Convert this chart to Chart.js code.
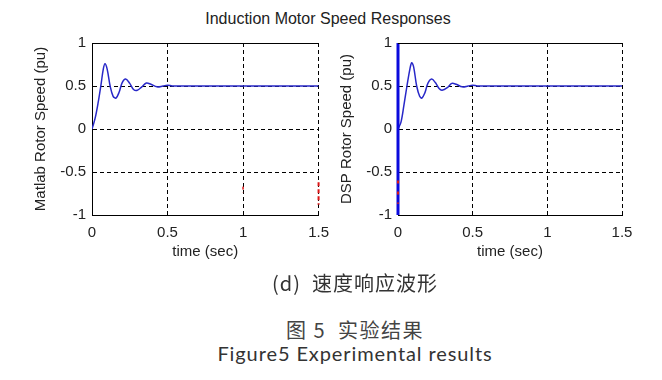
<!DOCTYPE html>
<html><head><meta charset="utf-8">
<script src="https://cdn.jsdelivr.net/npm/chart.js@4"></script>
<style>
html,body{margin:0;padding:0;background:#fff;}
#wrap{position:relative;width:662px;height:380px;overflow:hidden;background:#fff;}
.c{position:absolute;top:0;}
.txt{position:absolute;left:0;width:662px;text-align:center;color:#222;white-space:nowrap;}
#title{top:10px;left:0;width:656px;font:16px "Liberation Sans",Arial,sans-serif;}
#cap1{top:268px;left:24px;font:20px "Noto Sans CJK SC","Lato",sans-serif;letter-spacing:1px;color:#333;}
#cap2{top:315px;left:24px;font:20px "Noto Sans CJK SC",sans-serif;letter-spacing:1.5px;color:#444;}
#cap3{top:341px;left:24px;font:400 20px "Lato","Noto Sans",sans-serif;letter-spacing:0.9px;color:#333;}
</style></head>
<body><div id="wrap">
<div id="title" class="txt">Induction Motor Speed Responses</div>
<canvas id="cL" class="c" style="left:0" width="338" height="270"></canvas>
<canvas id="cR" class="c" style="left:331px" width="331" height="270"></canvas>
<div id="cap1" class="txt">(d)&nbsp; 速度响应波形</div>
<div id="cap2" class="txt">图 5&nbsp; 实验结果</div>
<div id="cap3" class="txt">Figure5 Experimental results</div>
</div>
<script>
// ---- data ----
const matlabTime  = [0, 0.02, 0.04, 0.06, 0.075, 0.086, 0.1, 0.12, 0.14, 0.159, 0.18, 0.2, 0.223, 0.25, 0.275, 0.3, 0.33, 0.36, 0.39, 0.43, 0.47, 0.5, 0.53, 0.56, 0.6, 1.5];
const matlabSpeed = [0, 0.12, 0.3, 0.52, 0.7, 0.76, 0.7, 0.5, 0.38, 0.36, 0.43, 0.54, 0.58, 0.53, 0.46, 0.45, 0.49, 0.535, 0.52, 0.49, 0.5, 0.51, 0.5, 0.5, 0.5, 0.5];
const dspTime  = [0, 0.02, 0.04, 0.06, 0.08, 0.092, 0.105, 0.125, 0.145, 0.16, 0.18, 0.2, 0.225, 0.25, 0.275, 0.295, 0.33, 0.36, 0.39, 0.43, 0.47, 0.5, 0.53, 0.56, 0.6, 1.5];
const dspSpeed = [0, 0.08, 0.28, 0.5, 0.7, 0.77, 0.72, 0.5, 0.38, 0.36, 0.42, 0.53, 0.58, 0.54, 0.47, 0.45, 0.48, 0.53, 0.52, 0.49, 0.5, 0.51, 0.5, 0.5, 0.5, 0.5];
const dspStepTime  = [0, 0];
const dspStepSpeed = [-1, 1];
const matlabRedTime  = [1.5, 1.5];
const matlabRedSpeed = [-0.62, -0.88];
const matlabRed2Time  = [1.0, 1.0];
const matlabRed2Speed = [-0.67, -0.74];
const dspRedTime  = [0, 0];
const dspRedSpeed = [-0.6, -0.87];
const xTicks = [0, 0.5, 1, 1.5];
const yTicks = [-1, -0.5, 0, 0.5, 1];

const pts = (xs, ys) => xs.map((x, i) => ({x, y: ys[i]}));
const FONT = {family: '"Liberation Sans", Arial, sans-serif', size: 15};

const topBorder = {
  id: 'topBorder',
  afterDraw(chart) {
    const a = chart.chartArea, ctx = chart.ctx;
    ctx.save(); ctx.strokeStyle = '#000'; ctx.lineWidth = 1;
    ctx.beginPath(); ctx.moveTo(a.left, a.top + 0.5); ctx.lineTo(a.right, a.top + 0.5); ctx.stroke();
    ctx.restore();
  }
};

function make(id, datasets, yTitle, yWidth, padRight, yTitlePad) {
  return new Chart(document.getElementById(id), {
    type: 'scatter',
    data: {datasets},
    plugins: [topBorder],
    options: {
      responsive: false, animation: false,
      layout: {padding: {left: 0, top: 43, right: padRight, bottom: 0}},
      plugins: {legend: {display: false}, tooltip: {enabled: false}},
      elements: {point: {radius: 0}},
      scales: {
        x: {
          type: 'linear', min: 0, max: 1.5,
          afterBuildTicks: s => { s.ticks = xTicks.map(v => ({value: v})); },
          afterFit: s => { s.height = 55; },
          ticks: {color: '#222', font: FONT, padding: 9, maxRotation: 0, callback: v => String(v)},
          grid: {color: '#000', lineWidth: 1, drawTicks: false},
          border: {color: '#000', width: 1, dash: [4, 3]},
          title: {display: true, text: 'time (sec)', color: '#222', font: FONT, padding: {top: 0, bottom: 9}}
        },
        y: {
          type: 'linear', min: -1, max: 1,
          afterBuildTicks: s => { s.ticks = yTicks.map(v => ({value: v})); },
          afterFit: s => { s.width = yWidth; },
          ticks: {color: '#222', font: FONT, padding: 6, callback: v => String(v)},
          grid: {color: '#000', lineWidth: 1, drawTicks: false},
          border: {color: '#000', width: 1, dash: [4, 3]},
          title: {display: true, text: yTitle, color: '#222', font: FONT, padding: {top: yTitlePad, bottom: 0}}
        }
      }
    }
  });
}

const blue = 'rgb(40,40,200)';
const red = 'rgb(220,20,20)';
make('cL', [
  {data: pts(matlabRedTime, matlabRedSpeed), showLine: true, borderColor: red, borderWidth: 2, borderDash: [4, 3], clip: false},
  {data: pts(matlabRed2Time, matlabRed2Speed), showLine: true, borderColor: red, borderWidth: 1.5, borderDash: [3, 3], clip: false},
  {data: pts(matlabTime, matlabSpeed), showLine: true, borderColor: blue, borderWidth: 1.5, tension: 0.35}
], 'Matlab Rotor Speed (pu)', 92, 5, 32);

make('cR', [
  {data: pts(dspRedTime, dspRedSpeed), showLine: true, borderColor: red, borderWidth: 2, borderDash: [3, 8], clip: false},
  {data: pts(dspStepTime, dspStepSpeed), showLine: true, borderColor: 'rgb(10,10,220)', borderWidth: 3, clip: false},
  {data: pts(dspTime, dspSpeed), showLine: true, borderColor: blue, borderWidth: 1.5, tension: 0.35}
], 'DSP Rotor Speed (pu)', 67, 40, 7);
</script>
</body></html>
